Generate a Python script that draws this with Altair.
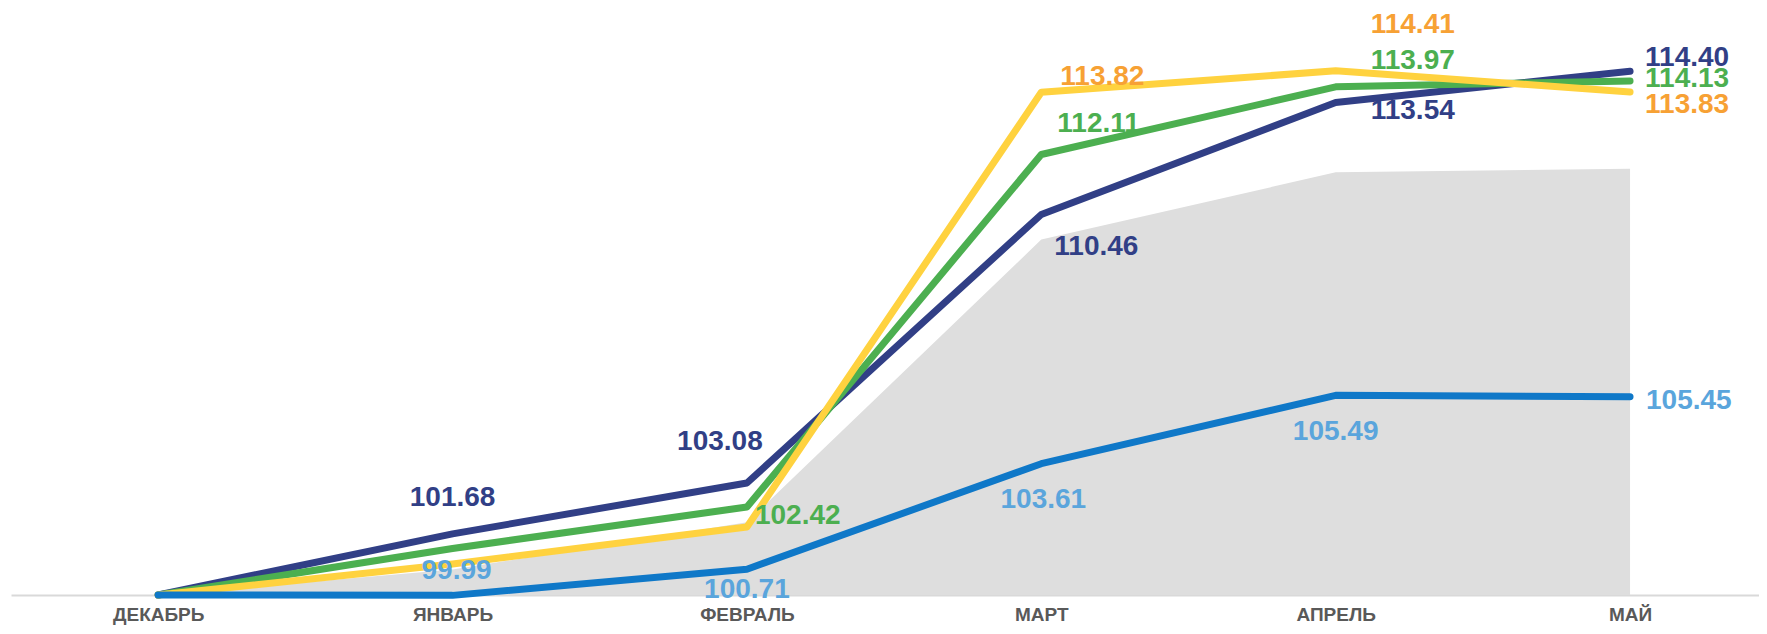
import altair as alt
import pandas as pd

# ---- data ----
months = ["ДЕКАБРЬ", "ЯНВАРЬ", "ФЕВРАЛЬ", "МАРТ", "АПРЕЛЬ", "МАЙ"]
navy_values = [100.00, 101.68, 103.08, 110.46, 113.54, 114.40]
green_values = [100.00, 101.28, 102.42, 112.11, 113.97, 114.13]
yellow_values = [100.00, 100.85, 101.87, 113.82, 114.41, 113.83]
blue_values = [100.00, 99.99, 100.71, 103.61, 105.49, 105.45]
gray_values = [100.00, 100.70, 102.00, 109.77, 111.62, 111.72]

# which points carry a value label (month index per series)
navy_labelled = [1, 2, 3, 4, 5]
green_labelled = [2, 3, 4, 5]
yellow_labelled = [3, 4, 5]
blue_labelled = [1, 2, 3, 4, 5]

# ---- styling (label placement relative to its point: align, dx, dy) ----
navy_place = [("center", 0, -36), ("center", -27, -41), ("left", 13, 32), ("left", 35, 9), ("left", 15, -13)]
green_place = [("left", 8, 9), ("left", 16, -30), ("left", 35, -26), ("left", 15, -2)]
yellow_place = [("left", 19, -15), ("left", 35, -46), ("left", 15, 13)]
blue_place = [("center", 4, -24), ("center", 0, 21), ("center", 2, 36), ("center", 0, 37), ("left", 16, 4)]

series = [
    # name, values, line colour, label colour, labelled, placement
    ("navy", navy_values, "#313F86", "#313F86", navy_labelled, navy_place),
    ("green", green_values, "#4CAF50", "#4CAF50", green_labelled, green_place),
    ("yellow", yellow_values, "#FFD23F", "#F7A134", yellow_labelled, yellow_place),
    ("blue", blue_values, "#0F78C8", "#5AA5DC", blue_labelled, blue_place),
]

FONT = "Liberation Sans"

x_enc = alt.X(
    "month:N",
    sort=months,
    scale=alt.Scale(type="point", padding=0.469, align=0.533),
    axis=alt.Axis(
        title=None,
        labelAngle=0,
        labelFont=FONT,
        labelFontWeight="bold",
        labelFontSize=19,
        labelColor="#595959",
        labelPadding=10,
        ticks=False,
        grid=False,
        domainColor="#D9D9D9",
        domainWidth=2,
    ),
)
y_enc = alt.Y("value:Q", scale=alt.Scale(domain=[100, 116], zero=False, nice=False), axis=None)

gray_df = pd.DataFrame({"month": months, "value": gray_values})
layers = [
    alt.Chart(gray_df)
    .mark_area(color="#DEDEDE", opacity=1)
    .encode(x=x_enc, y=y_enc, y2=alt.datum(100))
]

for name, vals, lcolor, tcolor, labelled, place in series:
    df = pd.DataFrame({"month": months, "value": vals})
    layers.append(
        alt.Chart(df)
        .mark_line(color=lcolor, strokeWidth=7, strokeCap="round", strokeJoin="round")
        .encode(x=x_enc, y=y_enc)
    )

for name, vals, lcolor, tcolor, labelled, place in series:
    for idx, (align, dx, dy) in zip(labelled, place):
        pdf = pd.DataFrame({"month": [months[idx]], "value": [vals[idx]]})
        layers.append(
            alt.Chart(pdf)
            .mark_text(
                align=align,
                baseline="middle",
                dx=dx,
                dy=dy,
                font=FONT,
                fontWeight="bold",
                fontSize=28,
                color=tcolor,
            )
            .encode(x=x_enc, y=y_enc, text=alt.Text("value:Q", format=".2f"))
        )

chart = (
    alt.layer(*layers)
    .properties(
        width=1748,
        height=582,
        padding={"left": 3, "top": 5, "right": 0, "bottom": 36},
        autosize=alt.AutoSizeParams(type="none"),
        background="white",
    )
    .configure_view(stroke=None, strokeWidth=0)
)

chart.save("out.html", embed_options={"renderer": "svg", "actions": False})
